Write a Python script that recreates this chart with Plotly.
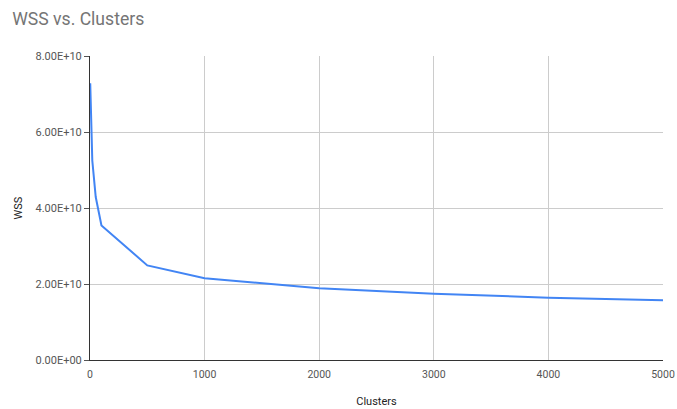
import plotly.graph_objects as go

clusters = [2, 20, 50, 100, 500, 1000, 2000, 3000, 4000, 5000]
wss = [7.28e10, 5.25e10, 4.29e10, 3.54e10, 2.49e10, 2.15e10, 1.89e10, 1.745e10, 1.64e10, 1.57e10]

y_ticks = [0, 2e10, 4e10, 6e10, 8e10]
y_tick_labels = ["0.00E+00", "2.00E+10", "4.00E+10", "6.00E+10", "8.00E+10"]
x_ticks = [0, 1000, 2000, 3000, 4000, 5000]

fig = go.Figure()
fig.add_trace(go.Scatter(x=clusters, y=wss, mode="lines",
                         line=dict(color="#4285F4", width=2), showlegend=False))

fig.update_layout(
    width=677, height=409,
    margin=dict(l=90, r=14, t=56, b=49, autoexpand=False),
    paper_bgcolor="white", plot_bgcolor="white",
    font=dict(family="Roboto", color="#444444", size=11),
    title=dict(text="WSS vs. Clusters", x=0.018, xanchor="left", y=0.954, yanchor="middle",
               font=dict(family="Roboto", size=17.6, color="#757575")),
    xaxis=dict(range=[0, 5000], tickvals=x_ticks, showgrid=True, gridcolor="#cccccc",
               showline=True, linecolor="#333333", linewidth=1, zeroline=False,
               ticks="outside", ticklen=4, tickcolor="rgba(0,0,0,0)", automargin=True,
               ticklabeloverflow="allow",
               tickfont=dict(size=10.5, color="#555555"),
               title=dict(text="Clusters", font=dict(size=11, color="#222222"), standoff=17)),
    yaxis=dict(range=[0, 8e10], tickvals=y_ticks, ticktext=y_tick_labels, showgrid=True,
               gridcolor="#cccccc", showline=True, linecolor="#333333", linewidth=1,
               zeroline=False, ticks="outside", ticklen=5, tickcolor="#555555",
               automargin=True, tickfont=dict(size=11, color="#555555"),
               title=dict(text="WSS", font=dict(size=11, color="#222222"), standoff=10)),
)

fig.write_html("out.html", config={"displayModeBar": False},
               post_script="document.body.style.margin='0';document.body.style.overflow='hidden';")
